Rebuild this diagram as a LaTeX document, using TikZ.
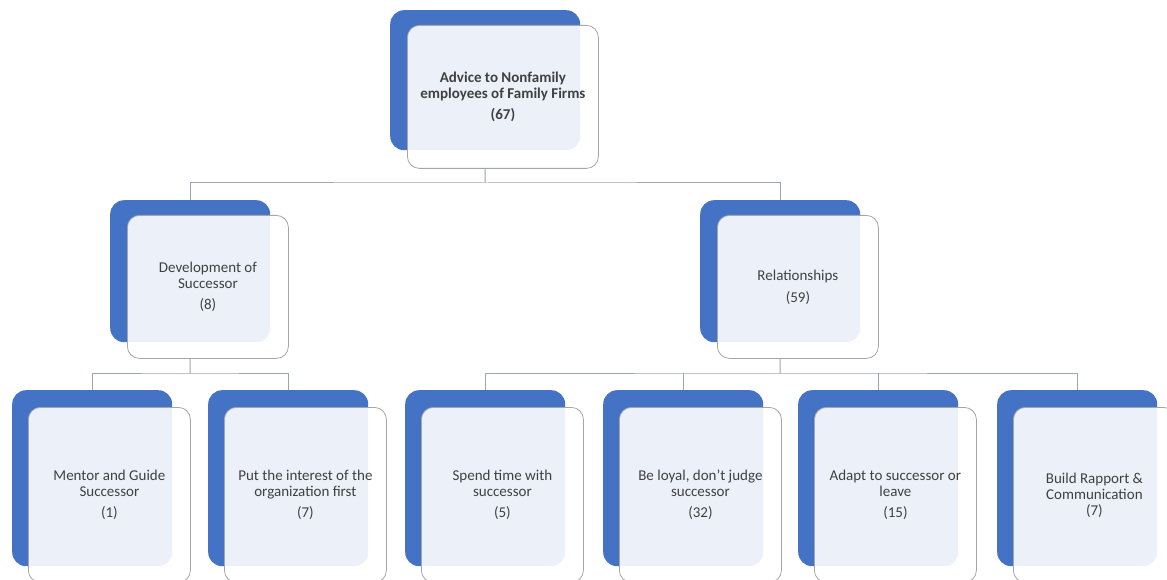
\documentclass[tikz,border=0pt]{standalone}
\usepackage{fontspec}
\setmainfont{Carlito}
\definecolor{accent}{HTML}{4472C4}
\definecolor{edge}{HTML}{A6A6A6}
\definecolor{wire}{HTML}{9AA4B4}
\definecolor{ink}{HTML}{404040}
\tikzset{
  back/.style={fill=accent, draw=none, rounded corners=14pt, anchor=north west,
    inner sep=0pt},
  front/.style={fill=white, fill opacity=0.9, text opacity=1, draw=edge, line width=0.8pt,
    rounded corners=12pt, anchor=north west, inner sep=0pt, align=center, text=ink,
    font=\fontsize{15}{16}\selectfont},
  wirestyle/.style={draw=wire, line width=1pt},
}
\begin{document}
\begin{tikzpicture}[x=1pt, y=-1pt]
\useasboundingbox (0,0) rectangle (1167,580);
\clip (0,0) rectangle (1167,580);

% root
\node[back, minimum width=190pt, minimum height=140pt] (rootb) at (390,10) {};
\node[front, minimum width=191pt, minimum height=143pt] (rootf) at (407,25)
  {\textbf{Advice to Nonfamily}\\\textbf{employees of Family Firms}\\[5pt]\textbf{(67)}};

% second level
\node[back, minimum width=160pt, minimum height=142pt] (devb) at (110,200) {};
\node[front, minimum width=161pt, minimum height=143pt] (devf) at (127,215)
  {Development of\\Successor\\[5pt](8)};
\node[back, minimum width=160pt, minimum height=142pt] (relb) at (700,200) {};
\node[front, minimum width=161pt, minimum height=143pt] (relf) at (717,215)
  {Relationships\\[6pt](59)};

% third level
\node[back, minimum width=160pt, minimum height=176pt] (mentb) at (12,390) {};
\node[front, minimum width=162pt, minimum height=175pt] (mentf) at (28,407)
  {Mentor and Guide\\Successor\\[5pt](1)};
\node[back, minimum width=160pt, minimum height=176pt] (orgb) at (208,390) {};
\node[front, minimum width=162pt, minimum height=175pt] (orgf) at (224,407)
  {Put the interest of the\\organization first\\[5pt](7)};
\node[back, minimum width=160pt, minimum height=176pt] (timeb) at (405,390) {};
\node[front, minimum width=162pt, minimum height=175pt] (timef) at (421,407)
  {Spend time with\\successor\\[5pt](5)};
\node[back, minimum width=160pt, minimum height=176pt] (loyb) at (603,390) {};
\node[front, minimum width=162pt, minimum height=175pt] (loyf) at (619,407)
  {Be loyal, don’t judge\\successor\\[5pt](32)};
\node[back, minimum width=160pt, minimum height=176pt] (adab) at (798,390) {};
\node[front, minimum width=162pt, minimum height=175pt] (adaf) at (814,407)
  {Adapt to successor or\\leave\\[5pt](15)};
\node[back, minimum width=160pt, minimum height=176pt] (rapb) at (997,390) {};
\node[front, minimum width=162pt, minimum height=175pt] (rapf) at (1013,407)
  {Build Rapport \&\\Communication\\(7)};

% connectors
\coordinate (bus1) at (485,183);
\coordinate (bus2) at (190,373);
\coordinate (bus3) at (780,373);
\draw[wirestyle] (rootb |- rootf.south) -- (bus1);
\draw[wirestyle] (devb.north) |- (bus1) -| (relb.north);
\draw[wirestyle] (devb |- devf.south) -- (bus2);
\draw[wirestyle] (mentb.north) |- (bus2) -| (orgb.north);
\draw[wirestyle] (relb |- relf.south) -- (bus3);
\draw[wirestyle] (timeb.north) |- (bus3) -| (rapb.north);
\draw[wirestyle] (bus3 -| loyb.north) -- (loyb.north);
\draw[wirestyle] (bus3 -| adab.north) -- (adab.north);
\end{tikzpicture}
\end{document}
